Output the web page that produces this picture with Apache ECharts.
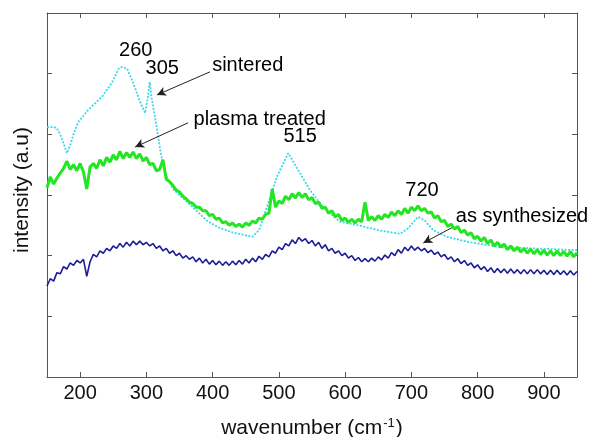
<!DOCTYPE html>
<html>
<head>
<meta charset="utf-8">
<script src="https://cdn.jsdelivr.net/npm/echarts@6/dist/echarts.min.js"></script>
<style>html,body{margin:0;padding:0;background:#fff;}#c{width:604px;height:437px;}</style>
</head>
<body>
<div id="c"></div>
<script>
// ---- data ----
const xTicks = [200, 300, 400, 500, 600, 700, 800, 900];
const yTicks = [1, 2, 3, 4, 5];

// wavenumbers for plasma treated and as synthesized spectra (step 5)
const wavenumbers = [];
for (let w = 150; w <= 950; w += 5) wavenumbers.push(w);

const plasmaTreated = [
3.12,3.30,3.18,3.28,3.36,3.44,3.56,3.42,3.50,3.40,
3.52,3.38,3.10,3.46,3.52,3.44,3.58,3.48,3.62,3.54,
3.66,3.58,3.72,3.60,3.70,3.62,3.71,3.60,3.68,3.56,
3.62,3.50,3.52,3.40,3.42,3.58,3.26,3.22,3.16,3.08,
3.05,2.98,2.94,2.88,2.86,2.80,2.80,2.74,2.74,2.66,
2.68,2.60,2.62,2.54,2.56,2.50,2.54,2.48,2.52,2.47,
2.54,2.50,2.57,2.54,2.62,2.60,2.68,2.70,3.10,2.80,
2.90,2.86,2.98,2.92,3.02,2.95,3.04,2.96,3.02,2.92,
2.96,2.86,2.88,2.78,2.80,2.70,2.74,2.64,2.68,2.58,
2.62,2.55,2.60,2.54,2.60,2.56,2.88,2.58,2.64,2.58,
2.66,2.60,2.68,2.63,2.72,2.66,2.74,2.68,2.78,2.70,
2.80,2.74,2.82,2.74,2.78,2.70,2.72,2.62,2.66,2.56,
2.58,2.48,2.52,2.44,2.48,2.38,2.42,2.34,2.38,2.28,
2.32,2.24,2.30,2.20,2.26,2.16,2.22,2.14,2.19,2.10,
2.16,2.08,2.14,2.06,2.12,2.04,2.11,2.03,2.10,2.02,
2.09,2.01,2.08,2.00,2.08,2.00,2.07,1.99,2.07,1.98,
2.05
];

const asSynthesized = [
1.50,1.62,1.58,1.72,1.70,1.82,1.78,1.88,1.84,1.92,
1.88,1.94,1.66,1.90,2.02,1.98,2.08,2.04,2.12,2.08,
2.16,2.12,2.20,2.14,2.22,2.16,2.24,2.18,2.24,2.18,
2.22,2.16,2.20,2.12,2.16,2.08,2.12,2.04,2.08,2.00,
2.04,1.96,2.00,1.94,1.98,1.90,1.96,1.88,1.94,1.86,
1.92,1.85,1.91,1.84,1.90,1.84,1.91,1.85,1.92,1.86,
1.94,1.88,1.96,1.90,1.99,1.94,2.02,1.98,2.08,2.04,
2.14,2.10,2.20,2.16,2.26,2.20,2.30,2.24,2.28,2.20,
2.25,2.16,2.22,2.12,2.18,2.08,2.12,2.04,2.08,2.00,
2.04,1.96,2.00,1.92,1.97,1.90,1.95,1.90,1.96,1.91,
1.98,1.93,2.01,1.96,2.05,2.00,2.10,2.04,2.14,2.08,
2.16,2.09,2.14,2.08,2.12,2.05,2.09,2.02,2.06,1.98,
2.02,1.94,1.98,1.90,1.95,1.87,1.92,1.84,1.88,1.80,
1.85,1.77,1.82,1.74,1.80,1.72,1.79,1.72,1.78,1.71,
1.78,1.71,1.77,1.70,1.77,1.70,1.77,1.70,1.77,1.70,
1.76,1.69,1.76,1.69,1.76,1.69,1.75,1.68,1.75,1.68,
1.74
];

const sinteredX = [150,160,165,170,175,180,185,190,197,212,233,248,258,263,271,280,290,298,302,305,308,313,321,328,340,355,370,391,410,431,460,470,482,497,514,532,547,567,592,620,650,683,695,710,720,733,754,784,834,884,950];
const sinteredY = [4.12,4.12,4.10,4.00,3.85,3.69,3.82,4.00,4.20,4.40,4.62,4.85,5.08,5.11,5.08,4.85,4.55,4.35,4.60,4.86,4.60,4.29,3.74,3.36,3.10,2.95,2.80,2.58,2.46,2.38,2.31,2.42,2.80,3.30,3.69,3.36,3.08,2.80,2.56,2.50,2.42,2.36,2.45,2.64,2.58,2.42,2.31,2.23,2.14,2.12,2.09];

// annotations (data coordinates)
const labelText = ['260', '305', 'sintered', 'plasma treated', '515', '720', 'as synthesized'];
const labelX = [284, 324, 453, 471, 532, 716, 867];
const labelY = [5.39, 5.09, 5.14, 4.24, 3.97, 3.07, 2.65];

const arrowFromX = [396, 363, 761];
const arrowFromY = [5.03, 4.19, 2.46];
const arrowToX = [316, 283, 718];
const arrowToY = [4.65, 3.79, 2.21];

// ---- chart ----
const FONT = 'Liberation Sans, Arial, sans-serif';
const chart = echarts.init(document.getElementById('c'), null, {renderer: 'canvas'});

const zip = (xs, ys) => xs.map((x, i) => [x, ys[i]]);
const axisLineStyle = {color: '#555', width: 1};

const option = {
  backgroundColor: '#fff',
  animation: false,
  grid: {left: 47, right: 27, top: 13, bottom: 60, containLabel: false, outerBoundsMode: 'none'},
  xAxis: [
    {
      type: 'value', min: 150, max: 950, position: 'bottom',
      axisLine: {show: true, onZero: false, lineStyle: axisLineStyle},
      axisTick: {show: true, inside: true, length: 5, lineStyle: axisLineStyle, customValues: xTicks},
      axisLabel: {show: true, color: '#111', fontSize: 20, fontFamily: FONT, margin: 6, customValues: xTicks},
      splitLine: {show: false},
      name: '{a|wavenumber (cm}{s|-1}{a|)}',
      nameLocation: 'middle', nameGap: 38,
      nameTextStyle: {
        color: '#111', fontFamily: FONT,
        rich: {
          a: {fontSize: 21, fontFamily: FONT, color: '#111', lineHeight: 24, verticalAlign: 'bottom'},
          s: {fontSize: 13, fontFamily: FONT, color: '#111', lineHeight: 24, verticalAlign: 'bottom', padding: [0, 1, 9, 1]}
        }
      }
    },
    {
      type: 'value', min: 150, max: 950, position: 'top',
      axisLine: {show: true, onZero: false, lineStyle: axisLineStyle},
      axisTick: {show: true, inside: true, length: 5, lineStyle: axisLineStyle, customValues: xTicks},
      axisLabel: {show: false},
      splitLine: {show: false}
    }
  ],
  yAxis: [
    {
      type: 'value', min: 0, max: 6, position: 'left',
      axisLine: {show: true, onZero: false, lineStyle: axisLineStyle},
      axisTick: {show: true, inside: true, length: 5, lineStyle: axisLineStyle, customValues: yTicks},
      axisLabel: {show: false},
      splitLine: {show: false},
      name: 'intensity (a.u)', nameLocation: 'middle', nameGap: 14,
      nameTextStyle: {color: '#111', fontSize: 21, fontFamily: FONT, padding: [0, 0, 0, 10]}
    },
    {
      type: 'value', min: 0, max: 6, position: 'right',
      axisLine: {show: true, onZero: false, lineStyle: axisLineStyle},
      axisTick: {show: true, inside: true, length: 5, lineStyle: axisLineStyle, customValues: yTicks},
      axisLabel: {show: false},
      splitLine: {show: false}
    }
  ],
  series: [
    {
      name: 'as synthesized', type: 'line', showSymbol: false, symbol: 'none',
      data: zip(wavenumbers, asSynthesized),
      lineStyle: {color: '#1c1c96', width: 1.6},
      z: 2
    },
    {
      name: 'sintered', type: 'line', showSymbol: false, symbol: 'none',
      data: zip(sinteredX, sinteredY),
      lineStyle: {color: '#3ad8ea', width: 1.8, type: [2, 1.5]},
      z: 3
    },
    {
      name: 'plasma treated', type: 'line', showSymbol: false, symbol: 'none',
      data: zip(wavenumbers, plasmaTreated),
      lineStyle: {color: '#22e622', width: 3},
      z: 4
    },
    {
      name: 'annotations', type: 'scatter', symbolSize: 0, silent: true,
      itemStyle: {opacity: 1},
      data: labelText.map((t, i) => [labelX[i], labelY[i], t]),
      label: {
        show: true, position: 'inside', formatter: p => p.data[2],
        color: '#000', opacity: 1, fontSize: 20, fontFamily: FONT
      },
      markLine: {
        silent: true, symbol: ['none', 'arrow'], symbolSize: [7, 9],
        lineStyle: {color: '#222', width: 1, type: 'solid'},
        label: {show: false},
        data: arrowFromX.map((x, i) => [
          {coord: [x, arrowFromY[i]]},
          {coord: [arrowToX[i], arrowToY[i]]}
        ])
      },
      z: 5
    }
  ]
};
chart.setOption(option);
</script>
</body>
</html>
